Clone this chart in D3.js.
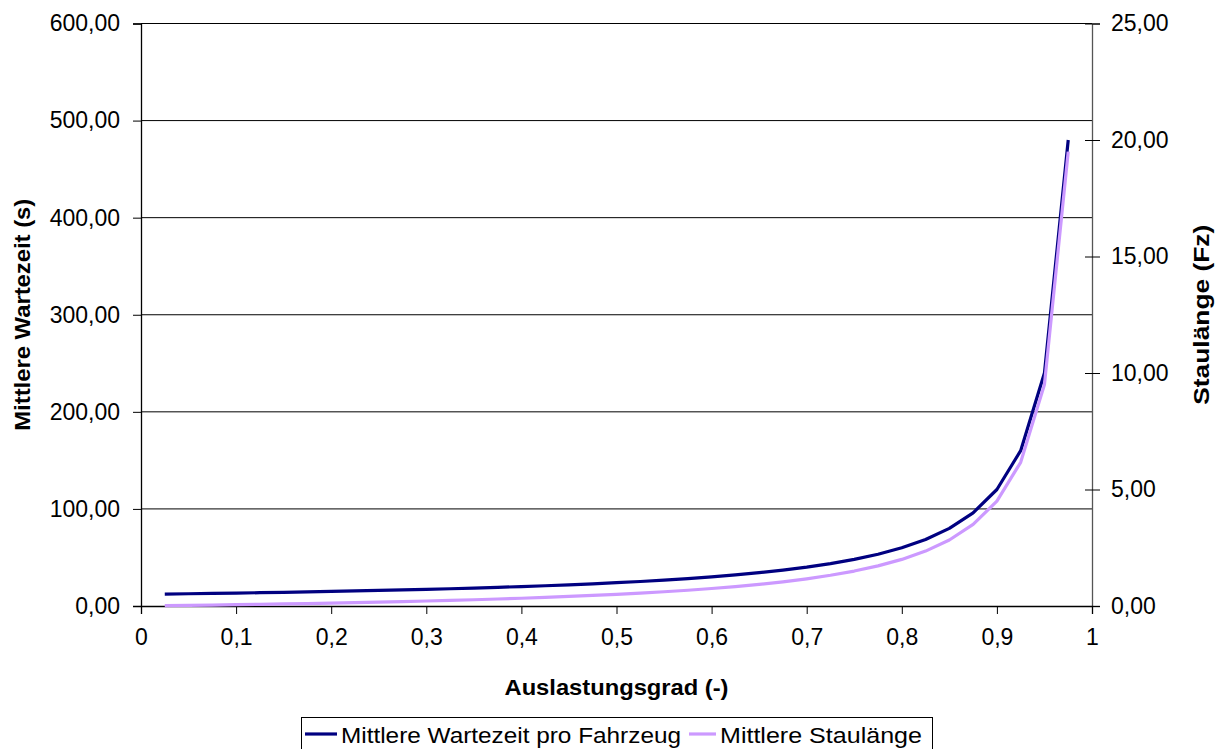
<!DOCTYPE html>
<html><head><meta charset="utf-8">
<script src="https://cdn.jsdelivr.net/npm/d3@7"></script>
<style>
html,body{margin:0;padding:0;background:#fff;}
svg{display:block;font-family:"Liberation Sans",Arial,sans-serif;}
</style></head>
<body>
<svg id="chart" width="1216" height="749"></svg>
<script>
const auslastung = [0.025,0.05,0.075,0.1,0.125,0.15,0.175,0.2,0.225,0.25,0.275,0.3,0.325,0.35,0.375,0.4,0.425,0.45,0.475,0.5,0.525,0.55,0.575,0.6,0.625,0.65,0.675,0.7,0.725,0.75,0.775,0.8,0.825,0.85,0.875,0.9,0.925,0.95,0.975];
const wartezeit = [12.31,12.63,12.97,13.33,13.71,14.12,14.55,15.00,15.48,16.00,16.55,17.14,17.78,18.46,19.20,20.00,20.87,21.82,22.86,24.00,25.26,26.67,28.24,30.00,32.00,34.29,36.92,40.00,43.64,48.00,53.33,60.00,68.57,80.00,96.00,120.00,160.00,240.00,480.00];
const staulaenge = [0.013,0.026,0.041,0.056,0.071,0.088,0.106,0.125,0.145,0.167,0.190,0.214,0.241,0.269,0.300,0.333,0.370,0.409,0.452,0.500,0.553,0.611,0.676,0.750,0.833,0.929,1.038,1.167,1.318,1.500,1.722,2.000,2.357,2.833,3.500,4.500,6.167,9.500,19.500];
const xTicks = [0,0.1,0.2,0.3,0.4,0.5,0.6,0.7,0.8,0.9,1];
const yLeftTicks = [0,100,200,300,400,500,600];
const yRightTicks = [0,5,10,15,20,25];
const seriesNames = ["Mittlere Wartezeit pro Fahrzeug","Mittlere Staulänge"];
const seriesColors = ["#000080","#CC99FF"];
const titles = {x:"Auslastungsgrad (-)", yl:"Mittlere Wartezeit (s)", yr:"Staulänge (Fz)"};

const fmt2 = v => d3.format(".2f")(v).replace(".", ",");
const fmtX = v => String(v).replace(".", ",");

const svg = d3.select("#chart");
const L = 141, R = 1092, T = 23.5, B = 606;
const x = d3.scaleLinear().domain([0,1]).range([L,R]);
const yl = d3.scaleLinear().domain([0,600]).range([B,T]);
const yr = d3.scaleLinear().domain([0,25]).range([B,T]);
const FS = 23;
const FONT = "Liberation Sans, Arial, sans-serif";

// gridlines
svg.append("g").selectAll("line").data(yLeftTicks.filter(d=>d>0)).join("line")
  .attr("x1",L).attr("x2",R).attr("y1",d=>yl(d)).attr("y2",d=>yl(d))
  .attr("stroke","#000").attr("stroke-width",1);

// left axis
const gl = svg.append("g").attr("transform",`translate(${L},0)`)
  .call(d3.axisLeft(yl).tickValues(yLeftTicks).tickFormat(fmt2).tickSize(8).tickPadding(13));
gl.select(".domain").attr("stroke","#000").attr("stroke-width",1.3);
gl.selectAll(".tick line").attr("stroke","#000");
gl.selectAll("text").attr("font-size",FS).attr("font-family",FONT).attr("fill","#000");

// right axis
const gr = svg.append("g").attr("transform",`translate(${R},0)`)
  .call(d3.axisRight(yr).tickValues(yRightTicks).tickFormat(fmt2).tickSize(8).tickPadding(11));
gr.select(".domain").attr("stroke","#555").attr("stroke-width",1.3);
gr.selectAll(".tick line").attr("x1",-7).attr("stroke","#000");
gr.selectAll("text").attr("font-size",FS).attr("font-family",FONT).attr("fill","#000");

// bottom axis
const gb = svg.append("g").attr("transform",`translate(0,${B})`)
  .call(d3.axisBottom(x).tickValues(xTicks).tickFormat(fmtX).tickSize(8).tickPadding(15));
gb.select(".domain").attr("stroke","#000").attr("stroke-width",1.3);
gb.selectAll(".tick line").attr("stroke","#000");
gb.selectAll("text").attr("font-size",FS).attr("font-family",FONT).attr("fill","#000");

// lines
const data = auslastung.map((a,i)=>({a, w:wartezeit[i], s:staulaenge[i]}));
svg.append("path").datum(data)
  .attr("d", d3.line().x(d=>x(d.a)).y(d=>yl(d.w)))
  .attr("fill","none").attr("stroke",seriesColors[0]).attr("stroke-width",3.2).attr("stroke-linejoin","round");
svg.append("path").datum(data)
  .attr("d", d3.line().x(d=>x(d.a)).y(d=>yr(d.s)))
  .attr("fill","none").attr("stroke",seriesColors[1]).attr("stroke-width",3.2).attr("stroke-linejoin","round");

// axis titles
svg.append("text").attr("x",(L+R)/2).attr("y",695).attr("text-anchor","middle")
  .attr("font-size",22).attr("font-weight","bold")
  .attr("textLength",224).attr("lengthAdjust","spacingAndGlyphs").text(titles.x);
svg.append("text").attr("transform",`translate(30,${(T+B)/2}) rotate(-90)`).attr("text-anchor","middle")
  .attr("font-size",22).attr("font-weight","bold")
  .attr("textLength",232).attr("lengthAdjust","spacingAndGlyphs").text(titles.yl);
svg.append("text").attr("transform",`translate(1209,${(T+B)/2}) rotate(-90)`).attr("text-anchor","middle")
  .attr("font-size",22).attr("font-weight","bold")
  .attr("textLength",180).attr("lengthAdjust","spacingAndGlyphs").text(titles.yr);

// legend
const lg = svg.append("g");
lg.append("rect").attr("x",301.5).attr("y",717.5).attr("width",631).attr("height",40)
  .attr("fill","#fff").attr("stroke","#000").attr("stroke-width",1);
const legX = [[305,337,341,340],[689,716,720,202]];
seriesNames.forEach((n,i)=>{
  lg.append("line").attr("x1",legX[i][0]).attr("x2",legX[i][1]).attr("y1",734).attr("y2",734)
    .attr("stroke",seriesColors[i]).attr("stroke-width",3.2);
  lg.append("text").attr("x",legX[i][2]).attr("y",743).attr("font-size",22)
    .attr("textLength",legX[i][3]).attr("lengthAdjust","spacingAndGlyphs").text(n);
});
</script>
</body></html>
